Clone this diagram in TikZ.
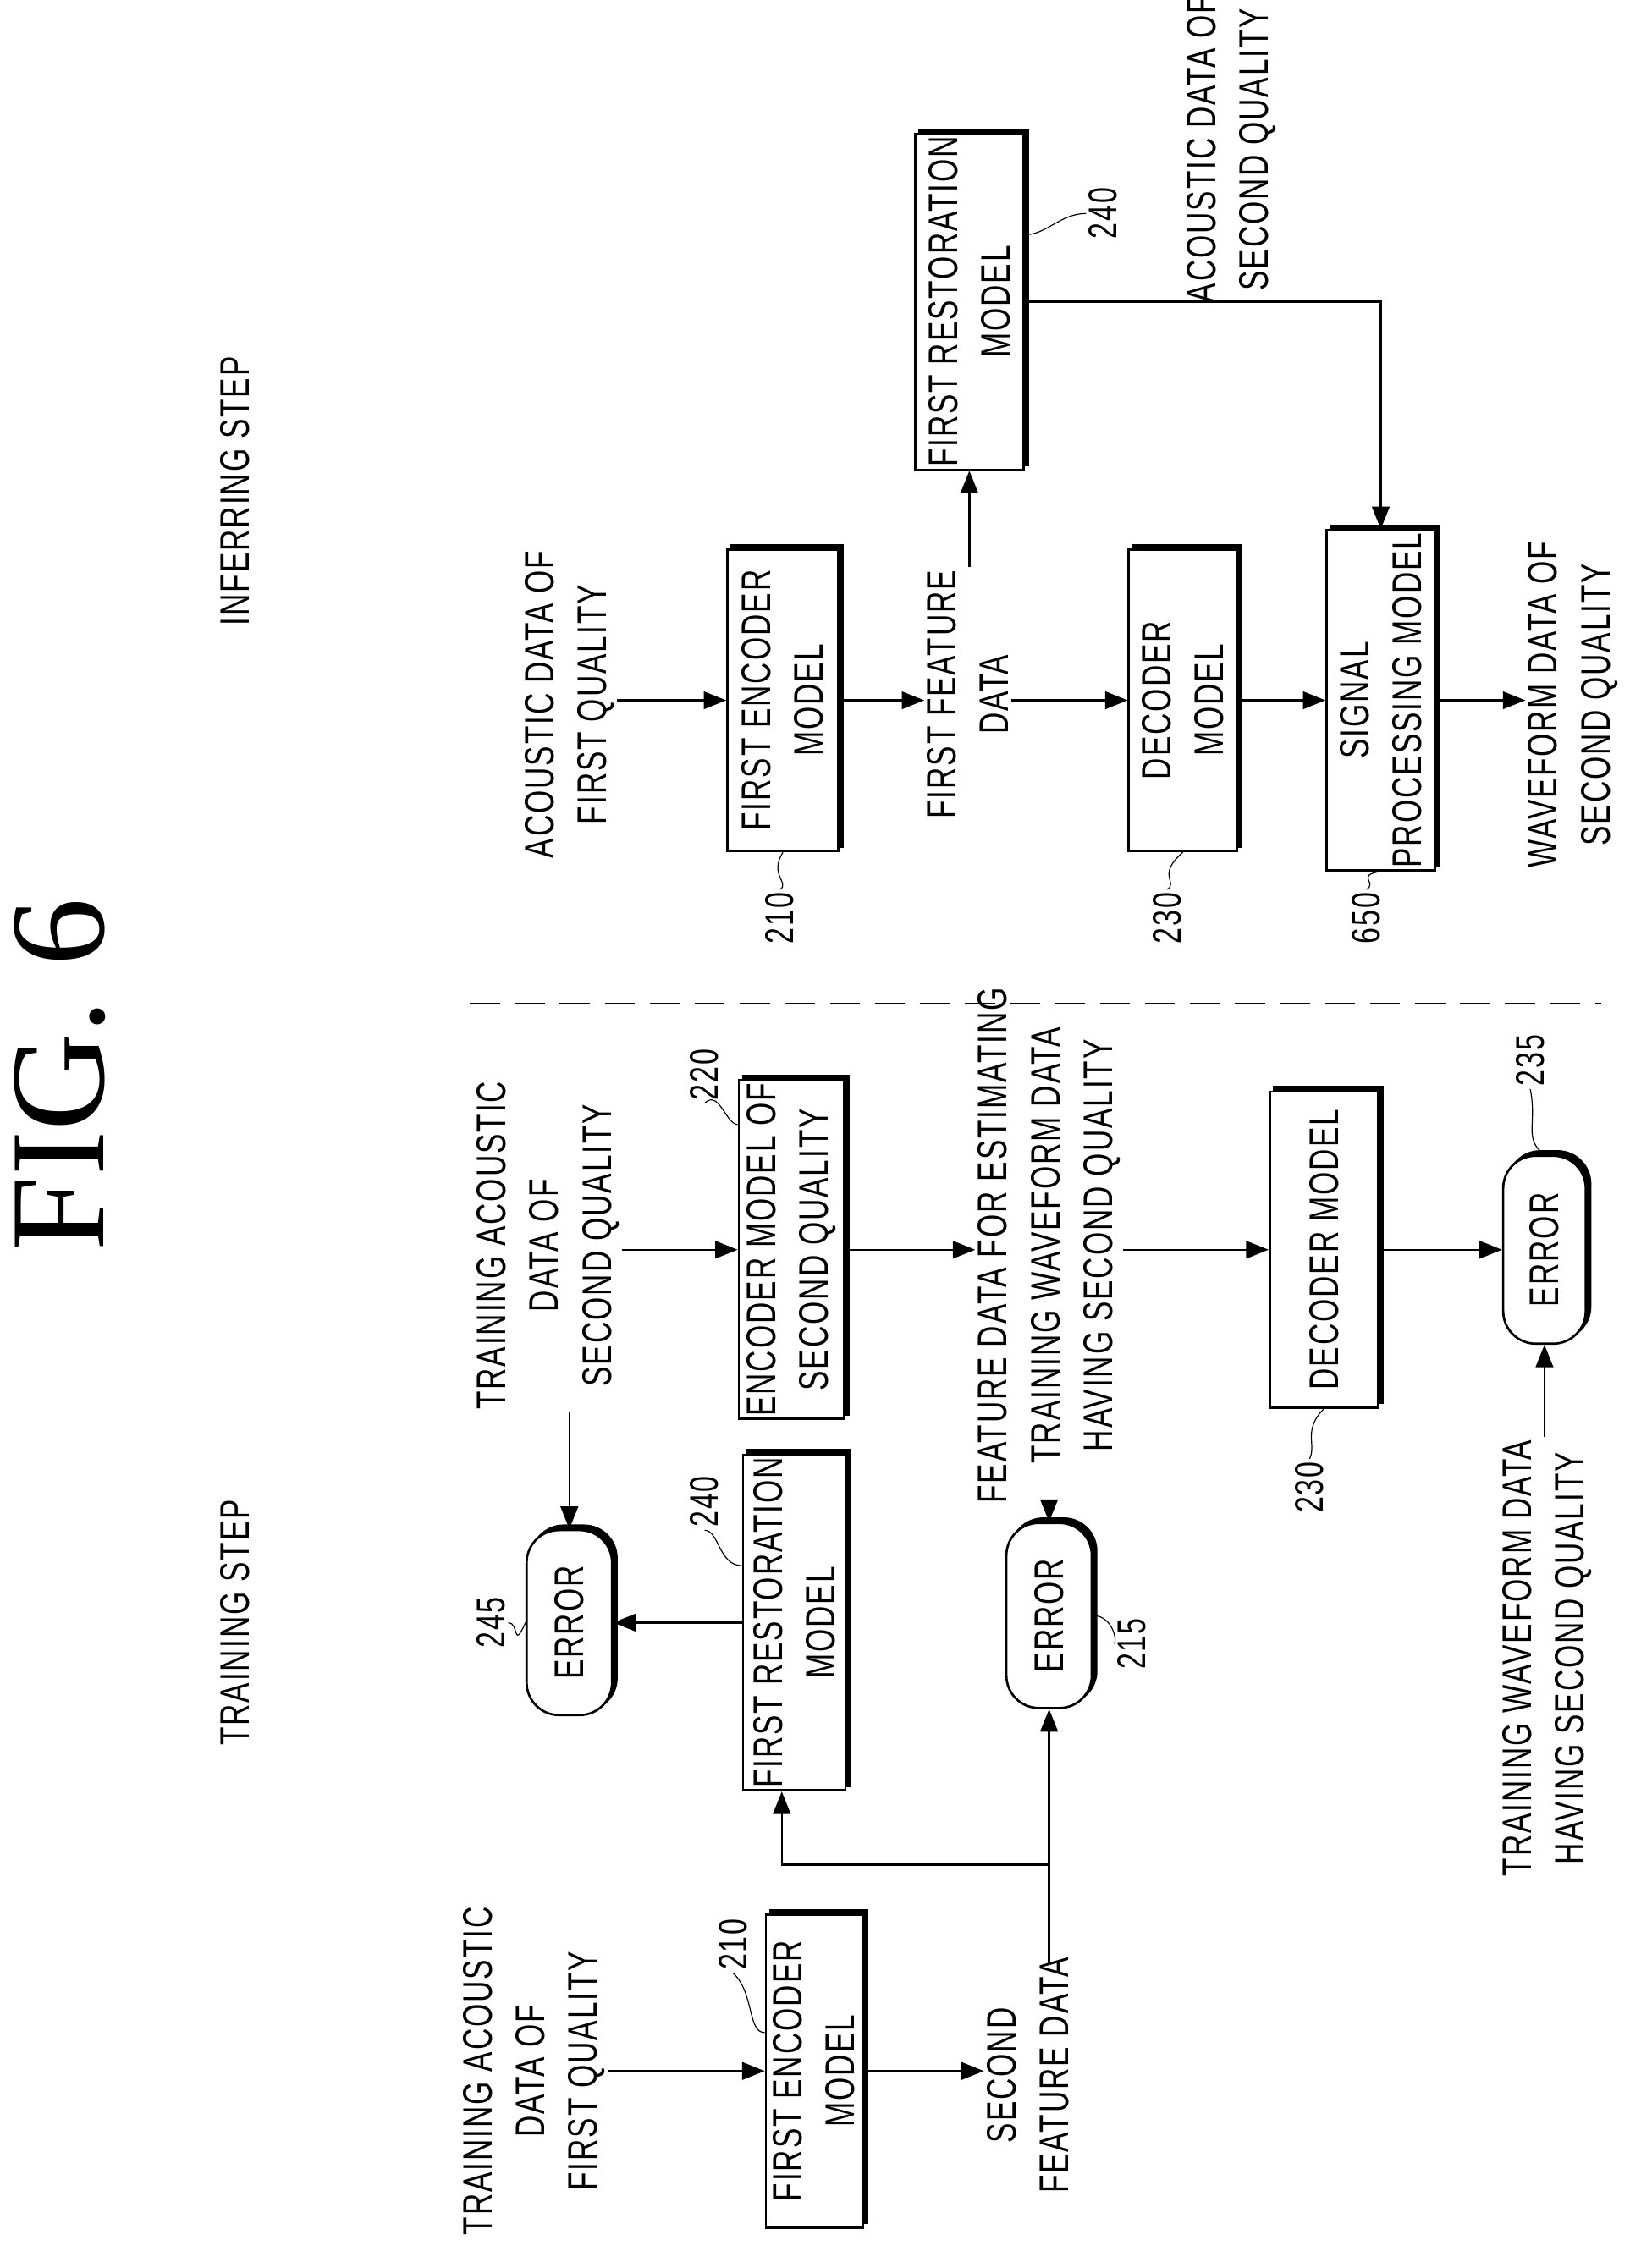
\documentclass[tikz,border=0pt]{standalone}
\usepackage{fontspec}
\setmainfont{Liberation Sans}[FakeStretch=0.72, LetterSpace=4]
\newfontfamily\figfont{Liberation Serif}
\usetikzlibrary{arrows.meta,positioning}

\tikzset{
  txt/.style={rotate=90, align=center, font=\fontsize{16.5}{21}\selectfont, inner sep=1pt},
  blk/.style={txt, draw, fill=white, line width=0.9pt,
    preaction={fill=black, draw=black, transform canvas={shift={(1.8pt,1.8pt)}}}},
  err/.style={blk, rounded corners=13pt},
  lbl/.style={rotate=90, font=\fontsize{16}{16}\selectfont, inner sep=1pt},
  lead/.style={thin},
  flow/.style={-{Triangle[length=9pt,width=7pt]}, line width=0.8pt},
}

\begin{document}
\begin{tikzpicture}[x=0.02cm, y=-0.02cm]
  \useasboundingbox (0,0) rectangle (1160,1581.5);
  \node[rotate=90, font=\figfont\fontsize{54}{54}\selectfont] (fig) at (42,755) {FIG. 6};
  \node[txt] (tstep) at (165,1140) {TRAINING STEP};
  \node[txt] (istep) at (165,345) {INFERRING STEP};
  \draw[dashed, line width=0.7pt, dash pattern=on 12pt off 6pt] (330,705) -- (1125,705);

  % training step
  \node[txt] (tin1) at (375,1455) {TRAINING ACOUSTIC\\DATA OF\\FIRST QUALITY};
  \node[blk, minimum width=220*0.02cm, minimum height=68*0.02cm] (enc1) at (572,1455) {FIRST ENCODER\\MODEL};
  \node[txt] (tfeat2) at (722,1458) {SECOND\\FEATURE DATA};
  \node[blk, minimum width=210*0.02cm, minimum height=72*0.02cm] (rest1) at (558,1140) {FIRST RESTORATION\\MODEL};
  \node[err, minimum width=130*0.02cm, minimum height=60*0.02cm] (err215) at (737,1135) {ERROR};
  \node[err, minimum width=130*0.02cm, minimum height=60*0.02cm] (err245) at (400,1140) {ERROR};
  \node[txt] (tin2) at (385,875) {TRAINING ACOUSTIC\\DATA OF\\SECOND QUALITY};
  \node[blk, minimum width=208*0.02cm, minimum height=74*0.02cm] (enc2) at (556,878) {ENCODER MODEL OF\\SECOND QUALITY};
  \node[txt] (tfeat) at (737,875) {FEATURE DATA FOR ESTIMATING\\TRAINING WAVEFORM DATA\\HAVING SECOND QUALITY};
  \node[blk, minimum width=222*0.02cm, minimum height=76*0.02cm] (dec1) at (930,878) {DECODER MODEL};
  \node[err, minimum width=132*0.02cm, minimum height=58*0.02cm] (err235) at (1085,878) {ERROR};
  \node[txt] (twave) at (1087,1165) {TRAINING WAVEFORM DATA\\HAVING SECOND QUALITY};
  \coordinate (split) at (737,1310);

  \draw[flow] (tin1.south |- enc1) -- (enc1.north);
  \draw[flow] (enc1.south) -- (tfeat2.north |- enc1);
  \draw[line width=0.8pt] ([yshift=-4pt]tfeat2.east -| split) -- (split);
  \draw[flow] (split) -- (err215.west);
  \draw[flow] (split) -| ([xshift=-5]rest1.west);
  \draw[flow] (rest1.north) -- (err245.south);
  \draw[flow] (tin2.west -| err245) -- (err245.east);
  \draw[flow] (tin2.south |- enc2) -- (enc2.north);
  \draw[flow] (enc2.south) -- (tfeat.north |- enc2);
  \draw[flow] (tfeat.west -| err215) -- (err215.east);
  \draw[flow] (tfeat.south |- dec1) -- (dec1.north);
  \draw[flow] (dec1.south) -- (err235.north);
  \draw[flow] (twave.east -| err235) -- (err235.west);

  \node[lbl] (l210a) at (515,1366) {210};
  \draw[lead] (enc1.north |- 0,1428) .. controls (525,1428) and (530,1400) .. (l210a.west);
  \node[lbl] (l240a) at (495,1055) {240};
  \draw[lead] (rest1.north |- 0,1100) .. controls (505,1100) and (505,1075) .. (l240a.west);
  \node[lbl] (l245) at (345,1140) {245};
  \draw[lead] (err245.north) .. controls (360,1160) and (365,1140) .. (l245.south);
  \node[lbl] (l215) at (795,1155) {215};
  \draw[lead] (err215.south) .. controls (780,1135) and (785,1150) .. (l215.north);
  \node[lbl] (l220) at (495,755) {220};
  \draw[lead] (enc2.north |- 0,790) .. controls (510,790) and (505,765) .. (l220.west);
  \node[lbl] (l230a) at (920,1045) {230};
  \draw[lead] (dec1.west) .. controls (915,1005) and (925,1015) .. (l230a.east);
  \node[lbl] (l235) at (1075,745) {235};
  \draw[lead] (err235.east) .. controls (1070,800) and (1080,790) .. (l235.west);

  % inferring step
  \node[txt] (iin) at (400,495) {ACOUSTIC DATA OF\\FIRST QUALITY};
  \node[blk, minimum width=212*0.02cm, minimum height=78*0.02cm] (ienc) at (550,492) {FIRST ENCODER\\MODEL};
  \node[txt] (ifeat) at (680,488) {FIRST FEATURE\\DATA};
  \node[blk, minimum width=212*0.02cm, minimum height=76*0.02cm] (irest) at (681,212) {FIRST RESTORATION\\MODEL};
  \node[txt] (iout) at (865,105) {ACOUSTIC DATA OF\\SECOND QUALITY};
  \node[blk, minimum width=212*0.02cm, minimum height=76*0.02cm] (idec) at (831,492) {DECODER\\MODEL};
  \node[blk, minimum width=212*0.02cm, minimum height=76*0.02cm] (isig) at (970,492) {SIGNAL\\PROCESSING MODEL};
  \node[txt] (iwave) at (1105,495) {WAVEFORM DATA OF\\SECOND QUALITY};

  \draw[flow] (iin.south |- ienc) -- (ienc.north);
  \draw[flow] (ienc.south) -- (ifeat.north |- ienc);
  \draw[flow] (ifeat.east -| irest) -- (irest.west);
  \draw[flow] (irest.south) -| (isig.east);
  \draw[flow] (ifeat.south |- idec) -- (idec.north);
  \draw[flow] (idec.south) -- (isig.north);
  \draw[flow] (isig.south) -- (iwave.north |- isig);

  \node[lbl] (l210b) at (548,645) {210};
  \draw[lead] (ienc.west) .. controls (540,615) and (555,620) .. (l210b.east);
  \node[lbl] (l240b) at (775,150) {240};
  \draw[lead] (irest.south |- 0,165) .. controls (735,165) and (745,150) .. (l240b.north);
  \node[lbl] (l230b) at (820,645) {230};
  \draw[lead] (idec.west) .. controls (812,615) and (828,620) .. (l230b.east);
  \node[lbl] (l650) at (960,645) {650};
  \draw[lead] (isig.west) .. controls (952,615) and (968,620) .. (l650.east);
\end{tikzpicture}
\end{document}
